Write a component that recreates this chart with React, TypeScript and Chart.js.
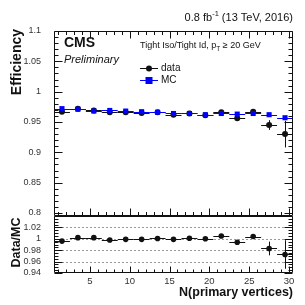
import React, { useEffect, useRef } from 'react';
import { Chart, registerables } from 'chart.js';

Chart.register(...registerables);

// ---- data ----
const BIN_CENTERS = [1.5, 3.5, 5.5, 7.5, 9.5, 11.5, 13.5, 15.5, 17.5, 19.5, 21.5, 23.5, 25.5, 27.5, 29.5];
const BIN_HALF_WIDTH = 1;
const DATA_EFF = [0.967, 0.972, 0.969, 0.966, 0.966, 0.965, 0.966, 0.962, 0.964, 0.961, 0.966, 0.956, 0.967, 0.945, 0.930];
const DATA_ERR = [0.002, 0.001, 0.001, 0.001, 0.001, 0.001, 0.001, 0.001, 0.001, 0.001, 0.002, 0.003, 0.004, 0.008, 0.022];
const MC_EFF = [0.972, 0.971, 0.968, 0.969, 0.968, 0.967, 0.966, 0.964, 0.964, 0.962, 0.964, 0.963, 0.964, 0.962, 0.957];
const MC_ERR = [0.001, 0.001, 0.001, 0.001, 0.001, 0.001, 0.001, 0.001, 0.001, 0.001, 0.001, 0.001, 0.001, 0.002, 0.003];
const RATIO = [0.996, 1.002, 1.002, 0.998, 0.999, 0.999, 1.0006, 0.999, 1.001, 1.0, 1.005, 0.994, 1.004, 0.983, 0.9725];
const RATIO_ERR = [0.003, 0.001, 0.001, 0.001, 0.001, 0.001, 0.001, 0.001, 0.001, 0.001, 0.002, 0.003, 0.004, 0.012, 0.025];

const X_TICKS = [5, 10, 15, 20, 25, 30];
const EFF_TICKS = [0.8, 0.85, 0.9, 0.95, 1, 1.05, 1.1];
const RATIO_TICKS = [0.94, 0.96, 0.98, 1, 1.02];
const RATIO_GRID = [0.96, 0.98, 1, 1.02];

const FONT = '"Liberation Sans", Arial, sans-serif';
const BLUE = '#0000ff';
const INK = '#111111';
const LABEL = '#333333';

const ERRORS: Record<string, { err: number[]; color: string }> = {
  MC: { err: MC_ERR, color: BLUE },
  data: { err: DATA_ERR, color: INK },
  ratio: { err: RATIO_ERR, color: INK },
};

const errorBarPlugin = {
  id: 'errorBars',
  beforeDatasetDraw(chart: any, args: any) {
    const ds = chart.data.datasets[args.index];
    const info = ERRORS[ds.label];
    if (!info) return;
    const meta = args.meta;
    const xs = chart.scales.x;
    const ys = meta.yScale;
    const ca = chart.chartArea;
    const ctx = chart.ctx;
    ctx.save();
    ctx.beginPath();
    ctx.rect(ca.left, ys.top, ca.right - ca.left, ys.bottom - ys.top);
    ctx.clip();
    ctx.strokeStyle = info.color;
    ctx.lineWidth = 1;
    ds.data.forEach((p: any, i: number) => {
      const x0 = xs.getPixelForValue(p.x - BIN_HALF_WIDTH);
      const x1 = xs.getPixelForValue(p.x + BIN_HALF_WIDTH);
      const xc = xs.getPixelForValue(p.x);
      const yc = ys.getPixelForValue(p.y);
      const yl = ys.getPixelForValue(p.y - info.err[i]);
      const yh = ys.getPixelForValue(p.y + info.err[i]);
      ctx.beginPath();
      ctx.moveTo(x0, Math.round(yc) + 0.5);
      ctx.lineTo(x1, Math.round(yc) + 0.5);
      ctx.moveTo(Math.round(xc) + 0.5, yl);
      ctx.lineTo(Math.round(xc) + 0.5, yh);
      ctx.stroke();
    });
    ctx.restore();
  },
};

function drawYTicks(ctx: any, ys: any, left: number, right: number, from: number, to: number, step: number, majors: number[], majLen: number, minLen: number) {
  const n = Math.round((to - from) / step);
  for (let k = 0; k <= n; k++) {
    const v = from + k * step;
    const isMajor = majors.some((m) => Math.abs(m - v) < step / 10);
    const len = isMajor ? majLen : minLen;
    const y = Math.round(ys.getPixelForValue(v)) + 0.5;
    ctx.moveTo(left, y);
    ctx.lineTo(left + len, y);
    ctx.moveTo(right, y);
    ctx.lineTo(right - len, y);
  }
}

function drawXTicks(ctx: any, xs: any, y: number, dir: number, majLen: number, minLen: number) {
  for (let v = 1; v <= 30; v++) {
    const len = v % 5 === 0 ? majLen : minLen;
    const x = Math.round(xs.getPixelForValue(v)) + 0.5;
    ctx.moveTo(x, y);
    ctx.lineTo(x, y + dir * len);
  }
}

const decorPlugin = {
  id: 'decor',
  beforeDatasetsDraw(chart: any) {
    const ctx = chart.ctx;
    const ca = chart.chartArea;
    const yr = chart.scales.yr;
    ctx.save();
    ctx.strokeStyle = '#9a9a9a';
    ctx.lineWidth = 1;
    ctx.setLineDash([2, 2]);
    ctx.beginPath();
    RATIO_GRID.forEach((v) => {
      const y = Math.round(yr.getPixelForValue(v)) + 0.5;
      ctx.moveTo(ca.left, y);
      ctx.lineTo(ca.right, y);
    });
    ctx.stroke();
    ctx.restore();
  },
  afterDraw(chart: any) {
    const ctx = chart.ctx;
    const ca = chart.chartArea;
    const xs = chart.scales.x;
    const yt = chart.scales.y;
    const yr = chart.scales.yr;
    const L = Math.round(ca.left) + 0.5;
    const R = Math.round(ca.right) - 0.5;
    ctx.save();
    ctx.strokeStyle = INK;
    ctx.lineWidth = 1;
    ctx.beginPath();
    const tT = Math.round(yt.top) + 0.5;
    const tB = Math.round(yt.bottom) - 0.5;
    const rT = Math.round(yr.top) + 0.5;
    const rB = Math.round(yr.bottom) - 0.5;
    ctx.rect(L, tT, R - L, tB - tT);
    ctx.rect(L, rT, R - L, rB - rT);
    drawYTicks(ctx, yt, L, R, 0.8, 1.1, 0.01, EFF_TICKS, 8, 4);
    drawXTicks(ctx, xs, tB, -1, 7, 3.5);
    drawXTicks(ctx, xs, tT, 1, 7, 3.5);
    drawYTicks(ctx, yr, L, R, 0.94, 1.04, 0.005, [0.94, 0.96, 0.98, 1, 1.02, 1.04], 8, 4);
    drawXTicks(ctx, xs, rB, -1, 6, 3);
    ctx.stroke();

    ctx.fillStyle = INK;
    ctx.textBaseline = 'middle';

    const part1 = '0.8 fb';
    const sup = '-1';
    const part2 = ' (13 TeV, 2016)';
    ctx.font = `11px ${FONT}`;
    const w1 = ctx.measureText(part1).width;
    const w3 = ctx.measureText(part2).width;
    ctx.font = `7.5px ${FONT}`;
    const w2 = ctx.measureText(sup).width;
    let x = 293 - (w1 + w2 + w3);
    const ty = 18;
    ctx.textAlign = 'left';
    ctx.font = `11px ${FONT}`;
    ctx.fillText(part1, x, ty);
    x += w1;
    ctx.font = `7.5px ${FONT}`;
    ctx.fillText(sup, x, ty - 4);
    x += w2;
    ctx.font = `11px ${FONT}`;
    ctx.fillText(part2, x, ty);

    ctx.font = `bold 14px ${FONT}`;
    ctx.fillText('CMS', 64, 43);
    ctx.font = `italic 11px ${FONT}`;
    ctx.fillText('Preliminary', 64, 60);

    const hy = 46;
    let hx = 140;
    ctx.font = `9px ${FONT}`;
    const h1 = 'Tight Iso/Tight Id, p';
    ctx.fillText(h1, hx, hy);
    hx += ctx.measureText(h1).width;
    ctx.font = `6.5px ${FONT}`;
    ctx.fillText('T', hx, hy + 3);
    hx += ctx.measureText('T').width;
    ctx.font = `9px ${FONT}`;
    ctx.fillText(' \u2265 20 GeV', hx, hy);

    const dy = 68;
    const my = 80;
    ctx.lineWidth = 1;
    ctx.strokeStyle = INK;
    ctx.beginPath();
    ctx.moveTo(140, dy + 0.5);
    ctx.lineTo(158, dy + 0.5);
    ctx.stroke();
    ctx.beginPath();
    ctx.arc(149, dy + 0.5, 3, 0, Math.PI * 2);
    ctx.fill();
    ctx.strokeStyle = BLUE;
    ctx.fillStyle = BLUE;
    ctx.beginPath();
    ctx.moveTo(140, my + 0.5);
    ctx.lineTo(158, my + 0.5);
    ctx.stroke();
    ctx.fillRect(145.5, my - 3, 7, 7);
    ctx.fillStyle = INK;
    ctx.font = `10px ${FONT}`;
    ctx.fillText('data', 161, dy);
    ctx.fillText('MC', 161, my);

    ctx.font = `bold 14px ${FONT}`;
    ctx.save();
    ctx.translate(17, yt.top - 2);
    ctx.rotate(-Math.PI / 2);
    ctx.textAlign = 'right';
    ctx.fillText('Efficiency', 0, 0);
    ctx.restore();

    ctx.save();
    ctx.font = `bold 12.5px ${FONT}`;
    ctx.translate(17, (yr.top + yr.bottom) / 2 - 2);
    ctx.rotate(-Math.PI / 2);
    ctx.textAlign = 'center';
    ctx.fillText('Data/MC', 0, 0);
    ctx.restore();

    ctx.font = `bold 12.5px ${FONT}`;
    ctx.textAlign = 'right';
    ctx.fillText('N(primary vertices)', 293, 293);
    ctx.restore();
  },
};

const tickFont = { family: FONT, size: 9 };

export default function App() {
  const ref = useRef<HTMLCanvasElement | null>(null);
  useEffect(() => {
    if (!ref.current) return;
    const chart = new Chart(ref.current, {
      type: 'scatter',
      data: {
        datasets: [
          {
            label: 'MC',
            data: BIN_CENTERS.map((x, i) => ({ x, y: MC_EFF[i] })),
            yAxisID: 'y',
            pointStyle: 'rect',
            pointRadius: 3.6,
            backgroundColor: BLUE,
            borderColor: BLUE,
            borderWidth: 0,
            order: 0,
          },
          {
            label: 'data',
            data: BIN_CENTERS.map((x, i) => ({ x, y: DATA_EFF[i] })),
            yAxisID: 'y',
            pointStyle: 'circle',
            pointRadius: 3,
            backgroundColor: INK,
            borderColor: INK,
            borderWidth: 0,
            order: 1,
          },
          {
            label: 'ratio',
            data: BIN_CENTERS.map((x, i) => ({ x, y: RATIO[i] })),
            yAxisID: 'yr',
            pointStyle: 'circle',
            pointRadius: 2.8,
            backgroundColor: INK,
            borderColor: INK,
            borderWidth: 0,
            order: 2,
          },
        ],
      },
      options: {
        responsive: false,
        maintainAspectRatio: false,
        devicePixelRatio: 1,
        animation: false,
        events: [],
        layout: { padding: { top: 31, right: 12, left: 0, bottom: 0 } },
        plugins: { legend: { display: false }, tooltip: { enabled: false } },
        scales: {
          x: {
            type: 'linear',
            position: 'bottom',
            min: 0.5,
            max: 30.5,
            grid: { display: false },
            border: { display: false },
            ticks: { font: { family: FONT, size: 9.5 }, color: LABEL, padding: -5, maxRotation: 0, autoSkip: false, callback: (v: any) => String(v) },
            afterBuildTicks: (s: any) => { s.ticks = X_TICKS.map((v) => ({ value: v })); },
            afterFit: (s: any) => { s.height = 32; },
          },
          y: {
            type: 'linear',
            position: 'left',
            stack: 'panels',
            stackWeight: 185,
            weight: 1,
            min: 0.795,
            max: 1.1,
            grid: { display: false },
            border: { display: false },
            ticks: { font: tickFont, color: LABEL, padding: 5, autoSkip: false, callback: (v: any) => String(v) },
            afterBuildTicks: (s: any) => { s.ticks = EFF_TICKS.map((v) => ({ value: v })); },
            afterFit: (s: any) => { s.width = 54; },
          },
          yr: {
            type: 'linear',
            position: 'left',
            stack: 'panels',
            stackWeight: 57,
            weight: 0,
            min: 0.94,
            max: 1.04,
            grid: { display: false },
            border: { display: false },
            ticks: { font: tickFont, color: LABEL, padding: 5, autoSkip: false, callback: (v: any) => String(v) },
            afterBuildTicks: (s: any) => { s.ticks = RATIO_TICKS.map((v) => ({ value: v })); },
            afterFit: (s: any) => { s.width = 54; },
          },
        },
      } as any,
      plugins: [errorBarPlugin, decorPlugin],
    });
    return () => chart.destroy();
  }, []);
  return (
    <div style={{ position: 'absolute', left: 0, top: 0, width: 305, height: 305, background: '#fff' }}>
      <canvas ref={ref} width={305} height={305} style={{ display: 'block', width: 305, height: 305 }} />
    </div>
  );
}
